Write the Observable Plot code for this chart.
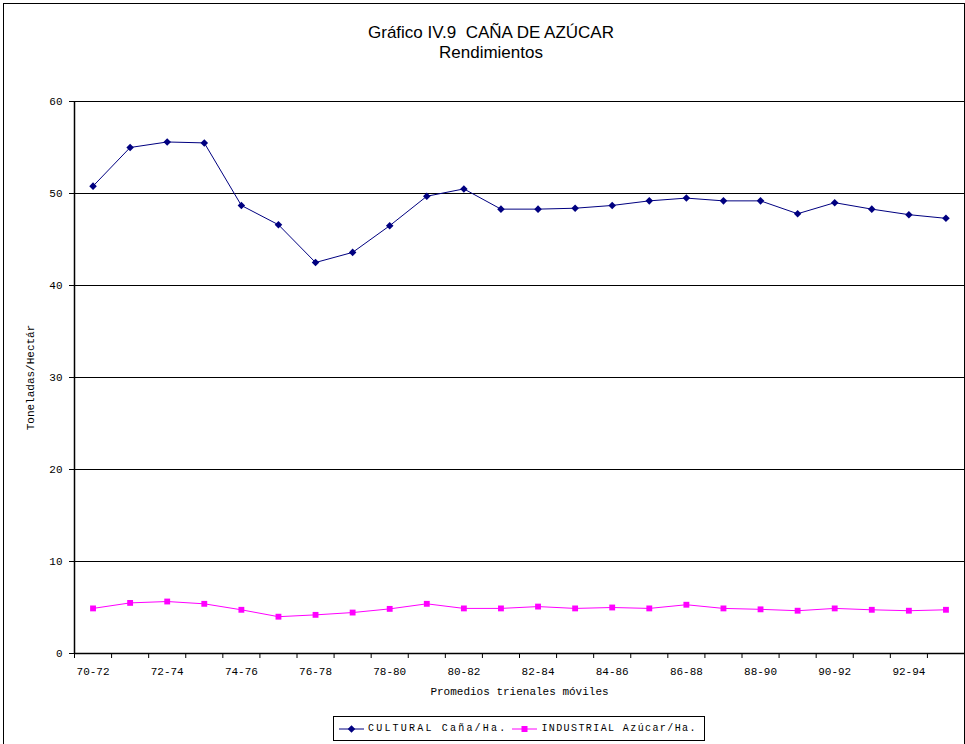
<!DOCTYPE html>
<html><head><meta charset="utf-8">
<script src="https://cdn.jsdelivr.net/npm/d3@7"></script>
<script src="https://cdn.jsdelivr.net/npm/@observablehq/plot@0.6"></script>
<style>
body{margin:0;background:#fff;width:965px;height:744px;overflow:hidden;position:relative;font-family:"Liberation Sans",Arial,sans-serif;color:#000}
#frame{position:absolute;left:3px;top:3px;width:962px;height:780px;border:1px solid #000;box-sizing:border-box}
#title{position:absolute;left:0;width:982px;top:23px;text-align:center;font-size:17px;line-height:20px}
#chart{position:absolute;left:0;top:0}
#legend{position:absolute;left:333px;top:716px;width:372px;height:25px;border:1px solid #000;box-sizing:border-box;display:flex;align-items:center;font-family:"Liberation Mono",monospace;font-size:10px;white-space:nowrap}
#legend svg{margin-left:5px;margin-right:4px}
</style></head><body>
<div id="frame"></div>
<div id="title">Gráfico IV.9&nbsp; CAÑA DE AZÚCAR<br>Rendimientos</div>
<div id="chart"></div>
<div id="legend"></div>
<script>
const periods = ["70-72","71-73","72-74","73-75","74-76","75-77","76-78","77-79","78-80","79-81","80-82","81-83",
                 "82-84","83-85","84-86","85-87","86-88","87-89","88-90","89-91","90-92","91-93","92-94","93-95"];
const cultural = [50.8,55.0,55.6,55.5,48.7,46.6,42.5,43.6,46.5,49.7,50.5,48.3,
                  48.3,48.4,48.7,49.2,49.5,49.2,49.2,47.8,49.0,48.3,47.7,47.3];
const industrial = [4.9,5.5,5.65,5.4,4.75,4.0,4.2,4.45,4.85,5.4,4.9,4.9,
                    5.1,4.9,5.0,4.9,5.3,4.9,4.8,4.65,4.9,4.75,4.65,4.75];
const yTicks = [0,10,20,30,40,50,60];
const seriesNames = ["CULTURAL Caña/Ha.","INDUSTRIAL Azúcar/Ha."];
const colors = ["#000080","#FF00FF"];

const rowsC = periods.map((p,i)=>({pos:i+0.5, period:p, v:cultural[i]}));
const rowsI = periods.map((p,i)=>({pos:i+0.5, period:p, v:industrial[i]}));
const bounds = d3.range(0, periods.length+1);
const labelPos = periods.map((p,i)=>i+0.5).filter((_,i)=>i%2===0);

const chart = Plot.plot({
  width:965, height:744,
  marginLeft:74, marginRight:1, marginTop:101, marginBottom:91,
  x:{domain:[0,periods.length]},
  y:{domain:[0,60]},
  style:{fontFamily:"'Liberation Mono', monospace", fontSize:"11px", color:"#000", background:"transparent"},
  marks:[
    Plot.ruleY(yTicks.filter(v=>v>0), {stroke:"#000", strokeWidth:1}),
    Plot.ruleY([0], {stroke:"#000", strokeWidth:1.5}),
    Plot.ruleX([0], {stroke:"#000", strokeWidth:1.5}),
    Plot.axisY({ticks:yTicks, tickSize:5, tickPadding:7, label:"Toneladas/Hectár", labelAnchor:"center", labelArrow:"none", labelOffset:48}),
    Plot.axisX({ticks:bounds, tickSize:5, tickFormat:()=>"", label:null}),
    Plot.axisX({ticks:labelPos, tickSize:0, tickPadding:14, tickFormat:v=>periods[Math.floor(v)], label:"Promedios trienales móviles", labelAnchor:"center", labelArrow:"none", labelOffset:41}),
    Plot.line(rowsC, {x:"pos", y:"v", stroke:colors[0], strokeWidth:1}),
    Plot.dot(rowsC, {x:"pos", y:"v", symbol:"diamond2", r:3.4, fill:colors[0], stroke:"none"}),
    Plot.line(rowsI, {x:"pos", y:"v", stroke:colors[1], strokeWidth:1}),
    Plot.dot(rowsI, {x:"pos", y:"v", symbol:"square", r:3.3, fill:colors[1], stroke:"none"})
  ]
});
document.getElementById("chart").appendChild(chart);

const legend = document.getElementById("legend");
const spacing = ["2.2px","1.4px"];
seriesNames.forEach((name,k)=>{
  const sw = d3.create("svg").attr("width",25).attr("height",10);
  sw.append("line").attr("x1",0).attr("x2",25).attr("y1",5).attr("y2",5).attr("stroke",colors[k]).attr("stroke-width",1);
  if(k===0) sw.append("path").attr("d",d3.symbol(d3.symbolDiamond2, 36)()).attr("transform","translate(12.5,5)").attr("fill",colors[k]);
  else sw.append("rect").attr("x",9.5).attr("y",2).attr("width",6).attr("height",6).attr("fill",colors[k]);
  legend.appendChild(sw.node());
  const t = document.createElement("span"); t.textContent = name; t.style.letterSpacing = spacing[k]; legend.appendChild(t);
});
</script>
</body></html>
